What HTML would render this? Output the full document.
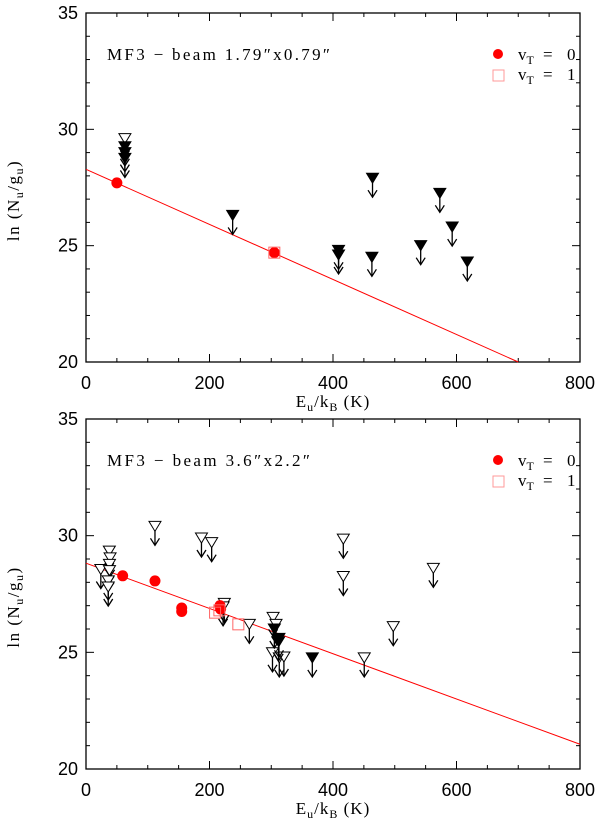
<!DOCTYPE html>
<html><head><meta charset="utf-8"><style>
html,body{margin:0;padding:0;background:#fff;width:600px;height:818px;overflow:hidden}
svg{display:block}
</style></head><body>
<svg id="chart" width="600" height="818" xmlns="http://www.w3.org/2000/svg"></svg>
<script>
// Top panel data
const topCircX=[50,305];
const topCircY=[27.7,24.7];
const topSqX=[305];
const topSqY=[24.7];
const topLimX=[63,63,63,63,237.5,464,409,409,463,542,573,593,617.5];
const topLimY=[29.6,29.25,29.0,28.75,26.3,27.9,24.8,24.6,24.5,25.0,27.25,25.8,24.3];
const topLimOpen=[1,0,0,0,0,0,0,0,0,0,0,0,0];
const topFit=[[0,28.28],[700,20]];
// Bottom panel data
const botCircX=[59.4,111.7,155,155,217,218];
const botCircY=[28.28,28.06,26.9,26.75,27.0,26.85];
const botSqX=[209,216,246.7];
const botSqY=[26.7,26.8,26.2];
const botLimX=[24,37.8,39,38,38,36,36,111.7,187,203.5,224,222,264.5,303,307.7,302,313,320.5,416.7,416.7,450.6,497.6,562.5,305,312.5,312,366.5];
const botLimY=[28.55,29.34,29.05,28.77,28.5,28.06,27.8,30.4,29.9,29.7,27.1,26.95,26.2,26.5,26.2,24.98,24.76,24.8,29.85,28.25,24.76,26.1,28.6,26.0,25.6,25.45,24.76];
const botLimOpen=[1,1,1,1,1,1,1,1,1,1,1,1,1,1,1,1,1,1,1,1,1,1,1,0,0,0,0];
const botFit=[[0,28.82],[800,21.06]];
const xTicks=[0,200,400,600,800];
const yTicks=[20,25,30,35];

const NS="http://www.w3.org/2000/svg";
const svg=document.getElementById('chart');
function mk(tag,attrs,parent){const e=document.createElementNS(NS,tag);for(const k in attrs)e.setAttribute(k,attrs[k]);(parent||svg).appendChild(e);return e;}

function panel(name,top,bot,title,titleW,circX,circY,sqX,sqY,limX,limY,limOpen,fit){
  const L=86,R=580;
  const g=mk('g',{});
  
  
  const xs=v=>L+(v/800)*(R-L);
  const ys=v=>bot-(v-20)/15*(bot-top);
  const fr=mk('rect',{x:L,y:top,width:R-L,height:bot-top,fill:'none',stroke:'#000','stroke-width':1.3},g);
  
  
  for(let v=0;v<=800;v+=50){const len=v%200===0?8:4;const x=xs(v);
    mk('line',{x1:x,y1:bot,x2:x,y2:bot-len,stroke:'#000'},g);mk('line',{x1:x,y1:top,x2:x,y2:top+len,stroke:'#000'},g);}
  for(let v=20;v<=35;v+=1){const len=v%5===0?8:4;const y=ys(v);
    mk('line',{x1:L,y1:y,x2:L+len,y2:y,stroke:'#000'},g);mk('line',{x1:R,y1:y,x2:R-len,y2:y,stroke:'#000'},g);}
  xTicks.forEach(v=>{const t=mk('text',{x:xs(v),y:bot+27,'text-anchor':'middle','font-family':'Liberation Sans, sans-serif','font-size':18},g);t.textContent=v;
    });
  yTicks.forEach(v=>{const t=mk('text',{x:78,y:ys(v)+6,'text-anchor':'end','font-family':'Liberation Sans, sans-serif','font-size':18},g);t.textContent=v;
    });
  const xt=mk('text',{x:333,y:bot+45,'text-anchor':'middle','font-family':'Liberation Serif, serif','font-size':17,'letter-spacing':1},g);
  xt.innerHTML='E<tspan font-size="12" dy="4">u</tspan><tspan dy="-4">/k</tspan><tspan font-size="12" dy="4">B</tspan><tspan dy="-4"> (K)</tspan>';
  
  const yt=mk('text',{x:0,y:0,'text-anchor':'middle','font-family':'Liberation Serif, serif','font-size':17,'letter-spacing':1.5,transform:`translate(19,${(top+bot)/2+13}) rotate(-90)`},g);
  yt.innerHTML='ln (N<tspan font-size="12" dy="4">u</tspan><tspan dy="-4">/g</tspan><tspan font-size="12" dy="4">u</tspan><tspan dy="-4">)</tspan>';
  
  const tt=mk('text',{x:107,y:top+47,'font-family':'Liberation Serif, serif','font-size':17,textLength:titleW,lengthAdjust:'spacing'},g);tt.textContent=title;
  
  // legend
  const lc=mk('circle',{cx:498,cy:top+41,r:5,fill:'#f00'},g);
  
  const l0=mk('text',{x:518,y:top+47,'font-family':'Liberation Serif, serif','font-size':17},g);
  l0.innerHTML='v<tspan font-size="12" dy="4">T</tspan><tspan dy="-4" x="543">=</tspan><tspan x="567">0</tspan>';
  
  const ls=mk('rect',{x:493,y:top+57,width:11,height:11,fill:'none',stroke:'#f99'},g);
  
  const l1=mk('text',{x:518,y:top+67,'font-family':'Liberation Serif, serif','font-size':17},g);
  l1.innerHTML='v<tspan font-size="12" dy="4">T</tspan><tspan dy="-4" x="543">=</tspan><tspan x="567">1</tspan>';
  
  // fit line
  const fl=mk('line',{x1:xs(fit[0][0]),y1:ys(fit[0][1]),x2:xs(fit[1][0]),y2:ys(fit[1][1]),stroke:'#f00','stroke-width':1},g);
  
  // upper limits
  limX.forEach((v,i)=>{const x=xs(v),y=ys(limY[i]);
    const ar=mk('g',{},g);
    
    mk('line',{x1:x,y1:y,x2:x,y2:y+19,stroke:'#000','stroke-width':1.3},ar);
    mk('polyline',{points:`${x-4.5},${y+12} ${x},${y+19} ${x+4.5},${y+12}`,fill:'none',stroke:'#000','stroke-width':1.3},ar);
    mk('polygon',{points:`${x-6},${y-5} ${x+6},${y-5} ${x},${y+5}`,fill:limOpen[i]?'#fff':'#000',stroke:'#000','stroke-width':1},ar);
  });
  circX.forEach((v,i)=>{const c=mk('circle',{cx:xs(v),cy:ys(circY[i]),r:5.5,fill:'#f00'},g);
    });
  sqX.forEach((v,i)=>{const r=mk('rect',{x:xs(v)-5.5,y:ys(sqY[i])-5.5,width:11,height:11,fill:'none',stroke:'#f66'},g);
    });
}
panel('top-panel',13,362,'MF3 \u2212 beam 1.79\u2033x0.79\u2033',223,topCircX,topCircY,topSqX,topSqY,topLimX,topLimY,topLimOpen,topFit);
panel('bottom-panel',419,769,'MF3 \u2212 beam 3.6\u2033x2.2\u2033',203,botCircX,botCircY,botSqX,botSqY,botLimX,botLimY,botLimOpen,botFit);
</script>
</body></html>
